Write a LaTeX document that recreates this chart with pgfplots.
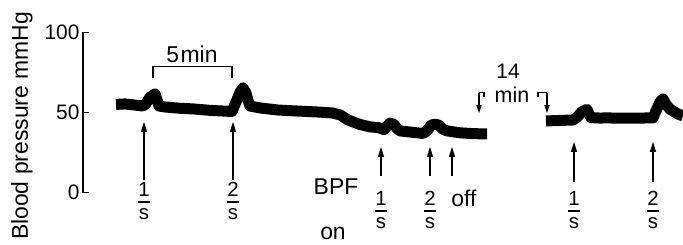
\documentclass[border=0pt]{standalone}
\usepackage{fontspec}
\setmainfont{Liberation Sans}
\usepackage{pgfplots}
\pgfplotsset{compat=1.18}
\usetikzlibrary{arrows.meta}
\newcommand{\fs}{\fontsize{23}{27}\selectfont}
\newcommand{\ffs}{\fontsize{20.5}{24}\selectfont}
\newcommand{\frc}[3]{%
  \node[anchor=north,inner sep=0,align=center,font=\ffs] at ([yshift=19.6bp]axis cs:#1,#2) {#3\\[-1.2bp]s};
  \draw[line width=1.4bp] ([xshift=-6bp]axis cs:#1,#2) -- ([xshift=6bp]axis cs:#1,#2);
}
\newcommand{\upar}[3]{%
  \draw[line width=1.2bp,-{Triangle[length=10bp,width=6bp]}] (axis cs:#1,#2) -- (axis cs:#1,#3);
}
\begin{document}
\begin{tikzpicture}
\begin{axis}[
  scale only axis, width=600bp, height=160.4bp,
  xmin=83, xmax=683, ymin=0, ymax=100,
  axis y line=left, axis x line=none,
  y axis line style={-, line width=1.1bp},
  ytick={0,50,100}, tick align=inside, major tick length=6bp,
  tick style={line width=1.1bp, black},
  /pgf/number format/assume math mode=true,
  yticklabel style={font=\fontsize{21}{25}\selectfont},
  ylabel={Blood pressure mmHg},
  ylabel style={at={(rel axis cs:-0.1017,0.416)}, anchor=center, font=\fontsize{23}{27}\selectfont},
  clip=false,
]
% trace segment 1
\addplot[black, line width=11bp, line join=round, line cap=butt] coordinates {
(116,55.0) (125,55.3) (135,54.6) (143,54.0) (146,55.5) (150,59.5) (155,61.5)
(157,58) (159,54) (165,53.4) (180,52.6) (193,52.2) (210,51.3) (232,50.6)
(235,55) (240,62.5) (243,65.3) (246,62) (248,57.5) (250,54.0) (260,52.8)
(278,51.5) (300,50.8) (320,50.2) (332,49.7) (340,48.5) (348,45.3) (360,42.5)
(370,41) (378,40.6) (384,39.3) (387,41.5) (390,43.4) (394,42.5) (397,40)
(400,38.5) (410,37.8) (423,36.9) (427,38.5) (431,42) (435,42.8) (439,42)
(443,39.5) (447,38.5) (460,37.3) (470,36.9) (483,36.6) (487,36.6)
};
% trace segment 2
\addplot[black, line width=11bp, line join=round, line cap=butt] coordinates {
(546,44.7) (560,45) (573,45.3) (577,47) (582,50.5) (587,51.9) (589,49)
(591,46.8) (600,46.5) (607,46.6) (620,46.4) (640,46.5) (653,46.6) (656,51)
(660,56.5) (663,58.4) (666,55) (670,52) (673,50.9) (678,49) (683,47.8)
};
% 5 min bracket
\draw[line width=1.2bp] (axis cs:153,71.5) -- (axis cs:153,78.4) -- (axis cs:232,78.4) -- (axis cs:232,71.5);
\node[anchor=base,inner sep=0,font=\fs] at (axis cs:192,80.9) {5\kern1.5bp min};
% arrows and labels
\upar{144}{7.9}{44.1}
\upar{233}{7.9}{44.1}
\frc{144}{-5.8}{1}
\frc{233}{-5.8}{2}
\node[anchor=base,inner sep=0,font=\fs] at (axis cs:336,-1.4) {BPF};
\node[anchor=base,inner sep=0,font=\fs] at (axis cs:333,-29.0) {on};
\upar{381}{10.4}{28.5}
\upar{430}{10.4}{28.5}
\upar{452}{10.4}{28.5}
\frc{381}{-11.4}{1}
\frc{430}{-11.4}{2}
\node[anchor=base,inner sep=0,font=\fs] at (axis cs:464,-8.9) {off};
% 14 min gap
\node[anchor=base,inner sep=0,font=\fontsize{21}{25}\selectfont] at (axis cs:508,70.9) {14};
\node[anchor=base,inner sep=0,font=\fontsize{21.5}{25}\selectfont] at (axis cs:512,56.0) {min};
\draw[line width=1.2bp] (axis cs:484,59.7) -- (axis cs:484,62.2) -- (axis cs:479,62.2);
\draw[line width=1.2bp,-{Triangle[length=8bp,width=5bp]}] (axis cs:479,62.2) -- (axis cs:479,49.5);
\draw[line width=1.2bp] (axis cs:538,59.7) -- (axis cs:538,62.2) -- (axis cs:547,62.2);
\draw[line width=1.2bp,-{Triangle[length=8bp,width=5bp]}] (axis cs:547,62.2) -- (axis cs:547,49.5);
% after gap
\upar{574}{6.7}{31.6}
\upar{653}{6.7}{31.6}
\frc{574}{-11.4}{1}
\frc{653}{-11.4}{2}
\coordinate (bbsw) at (axis cs:0,-32.6);
\coordinate (bbne) at (axis cs:683,120.1);
\end{axis}
\pgfresetboundingbox
\useasboundingbox (bbsw) rectangle (bbne);
\end{tikzpicture}
\end{document}
